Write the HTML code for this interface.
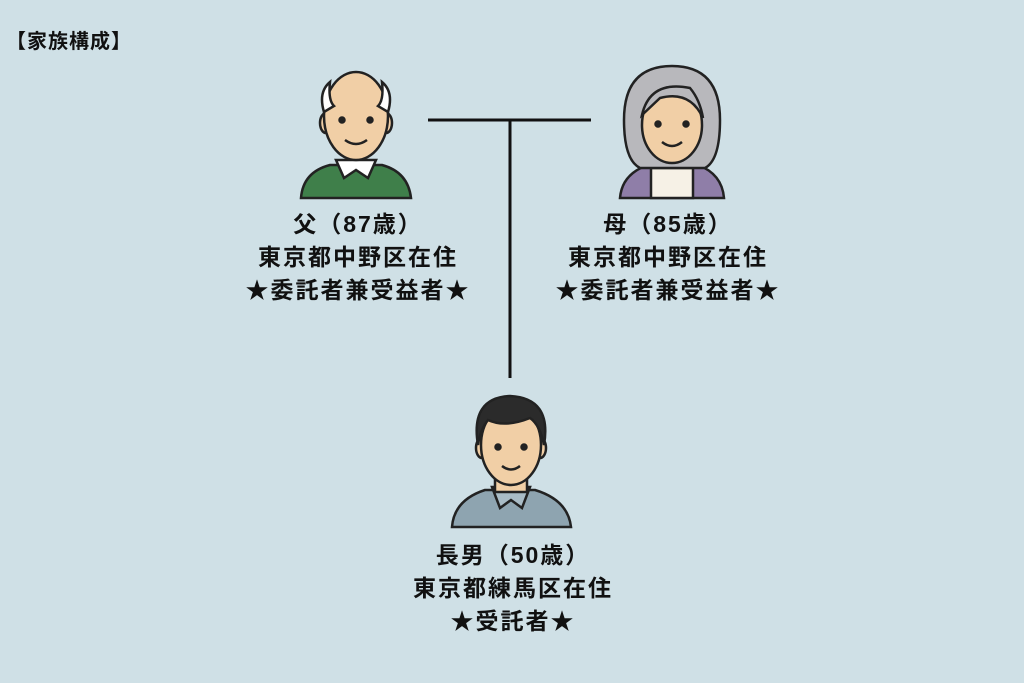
<!DOCTYPE html>
<html><head><meta charset="utf-8"><style>
body{margin:0;width:1024px;height:683px;background:#cfe0e6;overflow:hidden;position:relative;font-family:"Liberation Sans","Noto Sans CJK JP",sans-serif;color:#111}
.t{position:absolute;font-weight:bold;font-size:23px;letter-spacing:2px;text-align:center;line-height:33px;width:320px}
</style></head><body>
<div style="position:absolute;left:6px;top:25px;font-size:20px;font-weight:bold;letter-spacing:1px">【家族構成】</div>
<svg width="1024" height="683" style="position:absolute;left:0;top:0">
<g stroke="#111" stroke-width="3" fill="none">
<line x1="428" y1="120" x2="591" y2="120"/><line x1="510" y1="120" x2="510" y2="378"/></g>
<!-- father -->
<g stroke="#222" stroke-width="2.5">
<path d="M301 198 Q303 172 330 165 L382 165 Q408 172 411 198 Z" fill="#3f7f4a"/>
<path d="M336 160 L344 178 L356 170 L368 178 L376 160 Z" fill="#fff"/>
<ellipse cx="326" cy="123" rx="6" ry="10" fill="#f1cfa6"/><ellipse cx="386" cy="123" rx="6" ry="10" fill="#f1cfa6"/>
<ellipse cx="356" cy="116" rx="32" ry="44" fill="#f1cfa6"/>
<path d="M324 112 Q318 92 330 82 Q328 100 334 106Z M388 112 Q394 92 382 82 Q384 100 378 106Z" fill="#fff"/>
<circle cx="342" cy="120" r="2.5" fill="#222"/><circle cx="370" cy="120" r="2.5" fill="#222"/>
<path d="M345 140 Q356 148 367 140" fill="none"/></g>
<!-- mother -->
<g stroke="#222" stroke-width="2.5">
<path d="M620 198 Q622 174 648 165 L698 165 Q722 174 724 198 Z" fill="#8f7ea8"/>
<path d="M651 168 L651 198 L693 198 L693 168 Z" fill="#f6f1e6"/>
<path d="M672 66 Q720 66 720 120 Q720 160 705 168 L640 168 Q624 160 624 120 Q624 66 672 66Z" fill="#b8b8bc"/>
<ellipse cx="672" cy="125" rx="30" ry="38" fill="#f1cfa6"/>
<path d="M642 115 Q650 80 690 88 Q700 100 703 118 Q690 90 660 98 Z" fill="#b8b8bc"/>
<circle cx="658" cy="124" r="2.5" fill="#222"/><circle cx="686" cy="124" r="2.5" fill="#222"/>
<path d="M662 142 Q672 150 682 142" fill="none"/></g>
<!-- son -->
<g stroke="#222" stroke-width="2.5">
<path d="M452 527 Q454 500 485 490 L535 490 Q568 500 571 527 Z" fill="#8ea4b0"/>
<path d="M492 487 L500 508 L511 500 L522 508 L530 487 Z" fill="#a9bcc6"/>
<ellipse cx="482" cy="448" rx="6" ry="10" fill="#f1cfa6"/><ellipse cx="540" cy="448" rx="6" ry="10" fill="#f1cfa6"/>
<path d="M495 470 L495 492 L527 492 L527 470Z" fill="#f1cfa6"/>
<ellipse cx="511" cy="445" rx="30" ry="40" fill="#f1cfa6"/>
<path d="M478 445 Q470 398 510 396 Q552 398 544 445 Q540 425 530 418 Q505 428 488 420 Q480 430 478 445Z" fill="#2b2b2b"/>
<circle cx="498" cy="447" r="2.5" fill="#222"/><circle cx="524" cy="447" r="2.5" fill="#222"/>
<path d="M502 466 Q511 473 520 466" fill="none"/></g>
</svg>
<div class="t" style="left:198px;top:208px">父（87歳）<br>東京都中野区在住<br>★委託者兼受益者★</div>
<div class="t" style="left:508px;top:208px">母（85歳）<br>東京都中野区在住<br>★委託者兼受益者★</div>
<div class="t" style="left:353px;top:539px">長男（50歳）<br>東京都練馬区在住<br>★受託者★</div>
</body></html>
